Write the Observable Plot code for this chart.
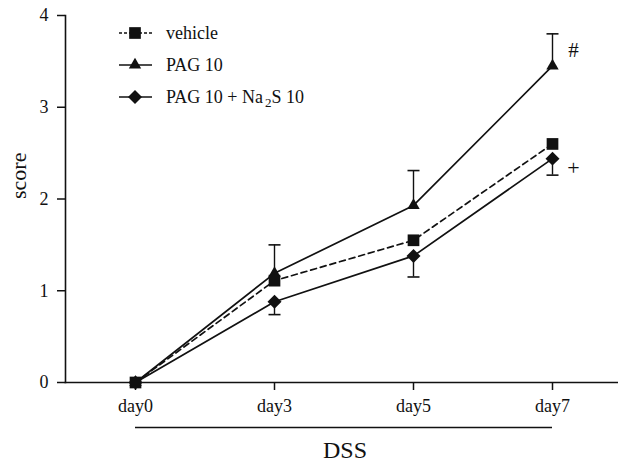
<!DOCTYPE html>
<html>
<head>
<meta charset="utf-8">
<script src="https://cdn.jsdelivr.net/npm/d3@7"></script>
<script src="https://cdn.jsdelivr.net/npm/@observablehq/plot@0.6"></script>
<style>
  body { margin: 0; background: #fff; }
  #wrap { position: relative; width: 618px; height: 463px; font-family: "Liberation Serif", "DejaVu Serif", serif; }
  #legend { position: absolute; left: 117px; top: 17px; font-size: 18px; color: #111; font-family: "Liberation Serif", "DejaVu Serif", serif; }
  .row { display: flex; align-items: center; height: 32px; }
  .row svg { width: 49px; height: 20px; }
  sub { font-size: 13px; vertical-align: -4px; line-height: 0; margin-left: 2px; }
  svg text { font-family: "Liberation Serif", "DejaVu Serif", serif; }
</style>
</head>
<body>
<div id="wrap"><div id="legend"></div></div>
<script>
const days = ["day0", "day3", "day5", "day7"];
const seriesNames = ["vehicle", "PAG 10", "PAG 10 + Na2S 10"];
const vehicle = [0, 1.11, 1.55, 2.60];
const pag = [0, 1.19, 1.93, 3.45];
const pagNa = [0, 0.88, 1.38, 2.44];
const pagErrTop = [null, 1.50, 2.31, 3.80];
const pagNaErrBottom = [null, 0.74, 1.15, 2.26];
const yTicks = [0, 1, 2, 3, 4];
const hashNote = [{day: "day7", value: 3.45, label: "#"}];
const plusNote = [{day: "day7", value: 2.44, label: "+"}];

const symbols = ["square", "triangle", "diamond2"];
const radii = [6.6, 4.6, 6.3];
const dashes = ["6,4", null, null];
const values = [vehicle, pag, pagNa];

const data = [];
values.forEach((arr, s) => arr.forEach((v, i) => data.push({series: seriesNames[s], day: days[i], value: v})));

const errPag = days.map((d, i) => ({day: d, lo: pag[i], hi: pagErrTop[i]})).filter(d => d.hi != null);
const errNa = days.map((d, i) => ({day: d, lo: pagNaErrBottom[i], hi: pagNa[i]})).filter(d => d.lo != null);

const cap = {draw(ctx) { ctx.moveTo(-6, 0); ctx.lineTo(6, 0); }};
const font = "'Liberation Serif', 'DejaVu Serif', serif";
const ink = "#111";

const marks = [
  Plot.frame({anchor: "left", stroke: ink, strokeWidth: 1.6}),
  Plot.frame({anchor: "bottom", stroke: ink, strokeWidth: 1.6}),
  Plot.axisY({ticks: yTicks, tickFormat: d3.format("d"), tickSize: 8, tickPadding: 9, fontSize: 18, label: null, stroke: ink, strokeWidth: 1.5, color: ink}),
  Plot.axisX({tickSize: 8, tickPadding: 9, fontSize: 18, label: null, stroke: ink, strokeWidth: 1.5, color: ink}),
  Plot.text(["score"], {frameAnchor: "left", dx: -47, rotate: -90, fontSize: 22, fill: ink}),
  Plot.text(["DSS"], {frameAnchor: "bottom", dx: 3, dy: 75, fontSize: 24, fill: ink}),
  Plot.ruleY([0], {x1: () => days[0], x2: () => days[days.length - 1], dy: 45, stroke: ink, strokeWidth: 1.3}),
  Plot.ruleX(errPag, {x: "day", y1: "lo", y2: "hi", stroke: ink, strokeWidth: 1.4}),
  Plot.dot(errPag, {x: "day", y: "hi", symbol: cap, stroke: ink, strokeWidth: 1.6, fill: "none", r: 6}),
  Plot.ruleX(errNa, {x: "day", y1: "lo", y2: "hi", stroke: ink, strokeWidth: 1.4}),
  Plot.dot(errNa, {x: "day", y: "lo", symbol: cap, stroke: ink, strokeWidth: 1.6, fill: "none", r: 6}),
];
seriesNames.forEach((name, s) => {
  const sub = data.filter(d => d.series === name);
  marks.push(Plot.line(sub, {x: "day", y: "value", stroke: ink, strokeWidth: 1.7, strokeDasharray: dashes[s]}));
});
seriesNames.forEach((name, s) => {
  const sub = data.filter(d => d.series === name);
  marks.push(Plot.dot(sub, {x: "day", y: "value", symbol: symbols[s], fill: ink, stroke: "none", r: radii[s]}));
});
marks.push(Plot.text(hashNote, {x: "day", y: "value", text: "label", dx: 21, dy: -16, fontSize: 21, fill: ink}));
marks.push(Plot.text(plusNote, {x: "day", y: "value", text: "label", dx: 21, dy: 9, fontSize: 22, fill: ink}));

const chart = Plot.plot({
  width: 618,
  height: 463,
  marginTop: 15,
  marginBottom: 81,
  marginLeft: 65,
  marginRight: 0,
  style: {fontFamily: font, background: "#fff", overflow: "visible"},
  x: {type: "point", domain: days, range: [135, 552], padding: 0},
  y: {domain: [0, 4]},
  marks
});
document.getElementById("wrap").prepend(chart);
chart.style.position = "absolute"; chart.style.left = "0"; chart.style.top = "0";

// legend
const legend = document.getElementById("legend");
const legendLabels = ["vehicle", "PAG 10", "PAG 10 + Na<sub>2</sub>S 10"];
seriesNames.forEach((name, s) => {
  const row = document.createElement("div");
  row.className = "row";
  const svg = d3.create("svg").attr("width", 49).attr("height", 20);
  svg.append("line").attr("x1", 2).attr("x2", 35).attr("y1", 10).attr("y2", 10)
    .attr("stroke", ink).attr("stroke-width", 1.6).attr("stroke-dasharray", dashes[s] ? "3,2" : null);
  const sym = {square: d3.symbolSquare, triangle: d3.symbolTriangle, diamond2: d3.symbolDiamond2}[symbols[s]];
  const r = radii[s];
  svg.append("path").attr("transform", "translate(18,10)").attr("d", d3.symbol(sym, Math.PI * r * r)()).attr("fill", ink);
  row.appendChild(svg.node());
  const span = document.createElement("span");
  span.innerHTML = legendLabels[s];
  row.appendChild(span);
  legend.appendChild(row);
});
</script>
</body>
</html>
